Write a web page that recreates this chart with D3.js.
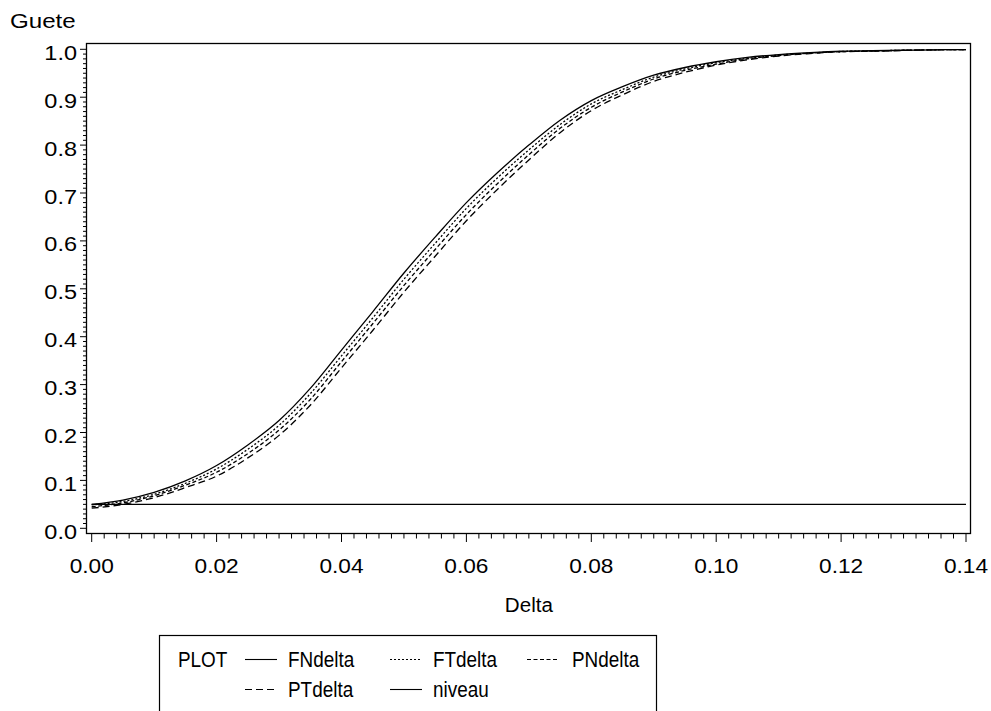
<!DOCTYPE html>
<html>
<head>
<meta charset="utf-8">
<script src="https://cdn.jsdelivr.net/npm/d3@7"></script>
<style>
  html, body { margin: 0; padding: 0; background: #fff; }
  svg { display: block; }
  text { font-family: "Liberation Sans", Arial, Helvetica, sans-serif; fill: #000; }
</style>
</head>
<body>
<svg id="chart" width="991" height="711"></svg>
<script>
// ---- data ----
const delta = [0.000,0.005,0.010,0.015,0.020,0.025,0.030,0.035,0.040,0.045,0.050,0.055,0.060,0.065,0.070,
               0.075,0.080,0.085,0.090,0.095,0.100,0.105,0.110,0.115,0.120,0.125,0.130,0.135,0.140];
const FNdelta = [0.050,0.059,0.075,0.099,0.131,0.174,0.225,0.292,0.372,0.452,0.533,0.608,0.680,0.743,0.800,
                 0.852,0.893,0.922,0.946,0.962,0.974,0.983,0.989,0.993,0.996,0.997,0.998,0.999,0.9995];
const FTdelta = [0.049,0.056,0.071,0.094,0.124,0.165,0.215,0.281,0.360,0.439,0.520,0.595,0.668,0.732,0.790,
                 0.843,0.886,0.916,0.942,0.959,0.972,0.981,0.988,0.992,0.9955,0.9967,0.998,0.999,0.9995];
const PNdelta = [0.045,0.053,0.068,0.090,0.117,0.156,0.205,0.269,0.348,0.427,0.507,0.582,0.655,0.720,0.780,
                 0.835,0.879,0.911,0.938,0.956,0.969,0.980,0.987,0.992,0.995,0.9965,0.998,0.999,0.9995];
const PTdelta = [0.042,0.050,0.064,0.085,0.109,0.147,0.194,0.257,0.335,0.413,0.493,0.568,0.642,0.708,0.769,
                 0.826,0.872,0.905,0.933,0.952,0.967,0.978,0.986,0.991,0.995,0.996,0.9975,0.999,0.9995];
const niveau = [0.05,0.05];
const niveauDelta = [0.00,0.14];

const xTicks = [0.00,0.02,0.04,0.06,0.08,0.10,0.12,0.14];
const yTicks = [0.0,0.1,0.2,0.3,0.4,0.5,0.6,0.7,0.8,0.9,1.0];
const seriesNames = ["FNdelta","FTdelta","PNdelta","PTdelta","niveau"];
const dashes = {FNdelta:null, FTdelta:"2,2", PNdelta:"4,2.5", PTdelta:"7,4", niveau:null};

// ---- layout ----
const svg = d3.select("#chart");
const frame = {left:86.5, top:43.5, right:970.5, bottom:533.5};
const x = d3.scaleLinear().domain([0,0.14]).range([91.7,966]);
const y = d3.scaleLinear().domain([0,1]).range([528.3,49.3]);

function label(g, txt, px, py, anchor, size, sx) {
  return g.append("text")
    .attr("transform", `translate(${px},${py}) scale(${sx},1)`)
    .attr("text-anchor", anchor)
    .style("font-size", size + "px")
    .text(txt);
}

// frame
svg.append("rect")
  .attr("x", frame.left).attr("y", frame.top)
  .attr("width", frame.right - frame.left).attr("height", frame.bottom - frame.top)
  .attr("fill", "none").attr("stroke", "#000").attr("stroke-width", 1.3);

// y axis ticks
const yMinor = d3.range(0, 101).map(i => i / 100);
svg.append("g").selectAll("line").data(yMinor).join("line")
  .attr("x1", d => (Math.round(d * 100) % 10 === 0) ? 80 : 83)
  .attr("x2", frame.left)
  .attr("y1", d => y(d)).attr("y2", d => y(d))
  .attr("stroke", "#000").attr("stroke-width", 1);
const yl = svg.append("g");
yTicks.forEach(t => label(yl, d3.format(".1f")(t), 77, y(t) + 10.5, "end", 21, 1.12));

// x axis ticks
const xMinor = d3.range(0, 71).map(i => i * 0.002);
svg.append("g").selectAll("line").data(xMinor).join("line")
  .attr("x1", d => x(d)).attr("x2", d => x(d))
  .attr("y1", frame.bottom)
  .attr("y2", (d, i) => (i % 10 === 0) ? 542 : 538.5)
  .attr("stroke", "#000").attr("stroke-width", 1);
const xl = svg.append("g");
xTicks.forEach(t => label(xl, d3.format(".2f")(t), x(t), 573, "middle", 21, 1.08));

// axis titles
label(svg, "Delta", (x(0) + x(0.14)) / 2, 612, "middle", 21, 0.98);
label(svg, "Guete", 10, 28, "start", 21, 1.15);

// curves
const plot = svg.append("g");
const lineGen = d3.line().x(d => x(d[0])).y(d => y(d[1])).curve(d3.curveMonotoneX);
const seriesData = {
  FNdelta: delta.map((d, i) => [d, FNdelta[i]]),
  FTdelta: delta.map((d, i) => [d, FTdelta[i]]),
  PNdelta: delta.map((d, i) => [d, PNdelta[i]]),
  PTdelta: delta.map((d, i) => [d, PTdelta[i]]),
  niveau: niveauDelta.map((d, i) => [d, niveau[i]])
};
seriesNames.forEach(n => {
  plot.append("path").datum(seriesData[n])
    .attr("d", lineGen)
    .attr("fill", "none").attr("stroke", "#000").attr("stroke-width", 1.3)
    .attr("stroke-dasharray", dashes[n]);
});

// legend
const lg = svg.append("g");
lg.append("rect").attr("x", 159.5).attr("y", 635.5).attr("width", 497).attr("height", 100)
  .attr("fill", "none").attr("stroke", "#000").attr("stroke-width", 1.2);
label(lg, "PLOT", 178, 667, "start", 22, 0.86);
const legendPos = [
  {n:"FNdelta", lx:245, tx:288, row:0},
  {n:"FTdelta", lx:390, tx:433, row:0},
  {n:"PNdelta", lx:527, tx:572, row:0},
  {n:"PTdelta", lx:245, tx:288, row:1},
  {n:"niveau",  lx:390, tx:433, row:1}
];
legendPos.forEach(p => {
  const by = p.row === 0 ? 667 : 697;
  lg.append("line").attr("x1", p.lx).attr("x2", p.lx + 32)
    .attr("y1", by - 7.5).attr("y2", by - 7.5)
    .attr("stroke", "#000").attr("stroke-width", 1.1)
    .attr("stroke-dasharray", dashes[p.n]);
  label(lg, p.n, p.tx, by, "start", 22, 0.86);
});
</script>
</body>
</html>
